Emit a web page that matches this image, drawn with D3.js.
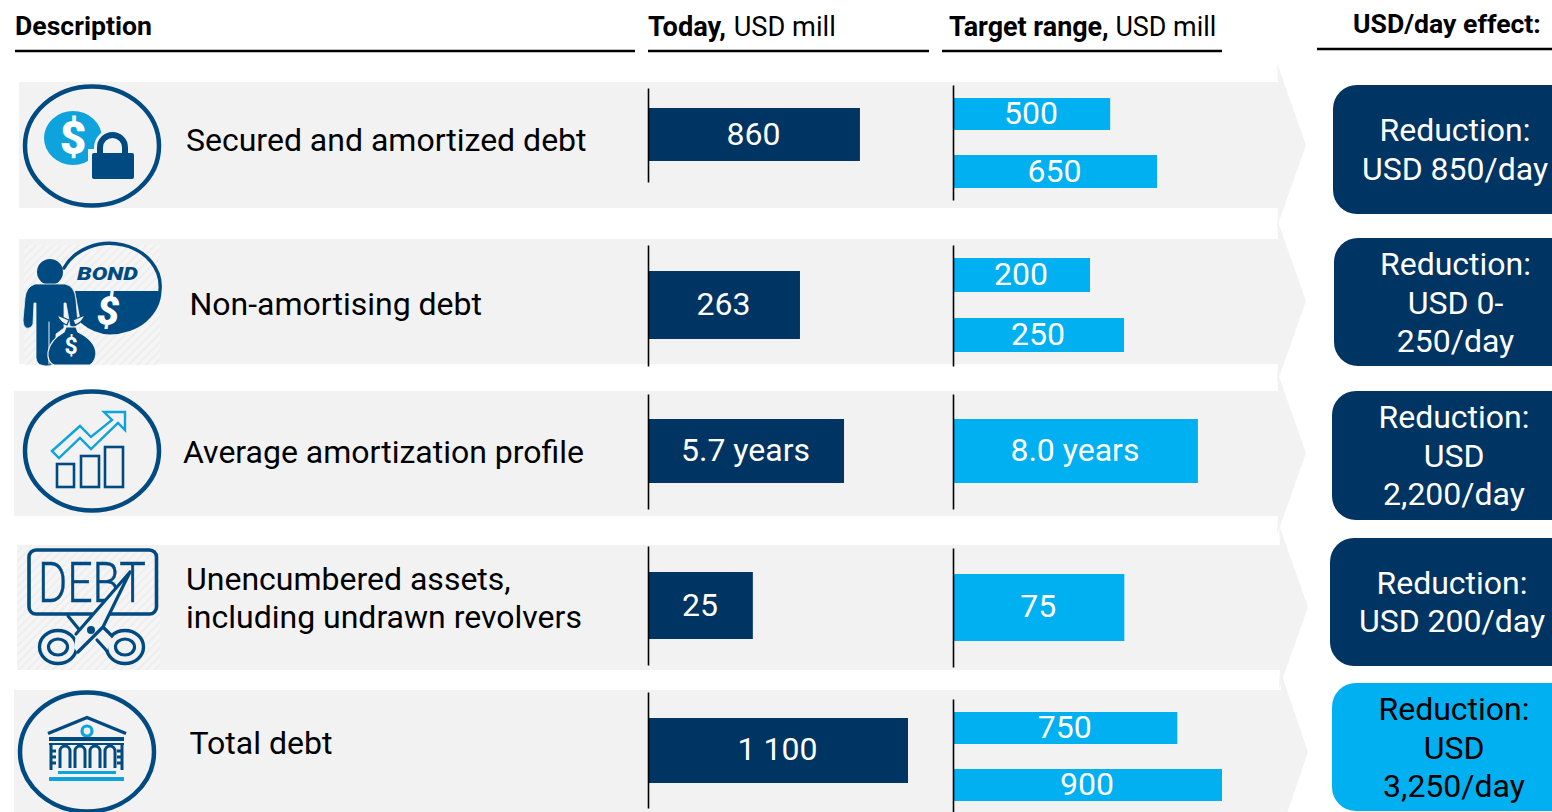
<!DOCTYPE html>
<html><head><meta charset="utf-8">
<script src="https://cdn.jsdelivr.net/npm/d3@7/dist/d3.min.js"></script>
<style>html,body{margin:0;padding:0;background:#fff;overflow:hidden}svg{display:block}text{font-family:Roboto,sans-serif}</style>
</head><body><svg id="c" width="1552" height="812"></svg>
<script>
// ---- data ----
const categories = [["Secured and amortized debt"],["Non-amortising debt"],["Average amortization profile"],["Unencumbered assets,","including undrawn revolvers"],["Total debt"]];
const todayValues = [860,263,5.7,25,1100];
const targetValues = [[500,650],[200,250],[8.0],[75],[750,900]];
const units = ["","","years","",""];
const todayDomainMax = [1055,450,7.56,62,1100];
const targetDomainMax = [858,394,8.79,118,900];
const effectLines = [["Reduction:","USD 850/day"],["Reduction:","USD 0-","250/day"],["Reduction:","USD","2,200/day"],["Reduction:","USD 200/day"],["Reduction:","USD","3,250/day"]];
const headers = [["Description",""],["Today,"," USD mill"],["Target range,"," USD mill"],["USD/day effect:",""]];

// ---- layout ----
const NAVY="#003462", CYAN="#00B0F0", GREY="#F2F2F2", ICON="#004A82", ICONB="#0FA3DE";
const rowL=[
 {x:19,top:82,bot:208,end:1278,ym:145,tip:1306,tx:186,ty:140,axT:[88,182],axR:[85,200],todY:[108,161],tarY:[[98,130],[155,188]],card:[1333,85,214],cx:1455,cy:149,todD:0,tarD:0},
 {x:19,top:239,bot:364,end:1278,ym:301,tip:1306,tx:189.5,ty:304,axT:[245,366],axR:[245,366],todY:[271,339],tarY:[[258,292],[318,352]],card:[1334,238,366],cx:1455.5,cy:302.5,todD:0,tarD:0},
 {x:14,top:391,bot:516,end:1278,ym:453,tip:1306,tx:183,ty:452,axT:[394,509],axR:[394,509],todY:[419,483],tarY:[[419,483]],card:[1332,391,520],cx:1454,cy:455.5,todD:0,tarD:0},
 {x:17,top:545,bot:670,end:1280,ym:607,tip:1308,tx:186,ty:598,axT:[546,665],axR:[548,667],todY:[572,639],tarY:[[574,641]],card:[1330,538,666],cx:1452,cy:601.5,todD:0,tarD:-1},
 {x:14,top:690,bot:830,end:1281,ym:752,tip:1308,tx:189.5,ty:743,axT:[692,808],axR:[699,812],todY:[718,783],tarY:[[712,744],[769,801]],card:[1332,683,811],cx:1454,cy:747.2,todD:-1,tarD:0}
];
const X0=648, X1=954, LINE=38.5, FS=32;
const fmt=(v,i)=>{const s=i===2?d3.format(".1f")(v):(v>=1000?d3.format(",")(v).replace(",", " "):String(v));return units[i]?s+" "+units[i]:s;};
const svg=d3.select("#c");

// header
const hd=[{x:15,y:35,fs:26.6,dx:0,l:[15,635,51]},{x:648,y:36,fs:27.2,dx:1,l:[648,929,51]},{x:949,y:35.5,fs:26.9,dx:0,l:[942,1222,51]},{x:1353,y:33,fs:26.6,dx:0,l:[1317,1552,49]}];
hd.forEach((h,i)=>{
  const t=svg.append("text").attr("x",h.x).attr("y",h.y).attr("font-size",h.fs).attr("fill","#000");
  t.append("tspan").attr("font-weight",700).text(headers[i][0]);
  if(headers[i][1]) t.append("tspan").attr("font-weight",400).attr("dx",h.dx).style("white-space","pre").text(headers[i][1]);
  svg.append("line").attr("x1",h.l[0]).attr("x2",h.l[1]).attr("y1",h.l[2]).attr("y2",h.l[2]).attr("stroke","#000").attr("stroke-width",2.5);
});

// arrows
rowL.forEach(r=>{
  const hh=82;
  svg.append("path").attr("fill",GREY).attr("d",d3.line()([[r.x,r.top],[r.end,r.top],[r.end-1,r.ym-hh],[r.tip,r.ym],[r.end-1,r.ym+hh],[r.end,r.bot],[r.x,r.bot]])+"Z");
});
rowL.forEach((r,i)=>{ if(i<4){ const n=rowL[i+1];
  svg.append("rect").attr("x",0).attr("y",r.bot).attr("width",1277).attr("height",n.top-r.bot).attr("fill","#fff");
}});

// labels
rowL.forEach((r,i)=>{
  const lines=categories[i];
  lines.forEach((s,k)=>{
    svg.append("text").attr("x",r.tx).attr("y",r.ty+(k-(lines.length-1)/2)*38).attr("dy","0.355em")
      .attr("font-size",FS).attr("fill","#000").text(s);
  });
});

// bars
rowL.forEach((r,i)=>{
  const sT=d3.scaleLinear().domain([0,todayDomainMax[i]]).range([0,260]);
  const sR=d3.scaleLinear().domain([0,targetDomainMax[i]]).range([0,268]);
  const g=svg.append("g");
  g.append("rect").attr("x",X0).attr("y",r.todY[0]).attr("width",sT(todayValues[i])).attr("height",r.todY[1]-r.todY[0]).attr("fill",NAVY);
  g.append("text").attr("x",X0+sT(todayValues[i])/2-0.5).attr("y",(r.todY[0]+r.todY[1])/2-1+r.todD).attr("dy","0.355em").attr("text-anchor","middle").attr("font-size",FS).attr("fill","#fff").text(fmt(todayValues[i],i));
  g.selectAll("rect.t").data(targetValues[i]).join("rect").attr("class","t").attr("x",X1).attr("y",(d,k)=>r.tarY[k][0]).attr("width",d=>sR(d)).attr("height",(d,k)=>r.tarY[k][1]-r.tarY[k][0]).attr("fill",CYAN);
  g.selectAll("text.t").data(targetValues[i]).join("text").attr("class","t").attr("x",d=>X1+sR(d)/2-1).attr("y",(d,k)=>(r.tarY[k][0]+r.tarY[k][1])/2-1+r.tarD).attr("dy","0.355em").attr("text-anchor","middle").attr("font-size",FS).attr("fill","#fff").text(d=>fmt(d,i));
  [[X0,r.axT],[X1-1,r.axR]].forEach(([x,rg])=>{
    const ax=d3.axisLeft(d3.scaleLinear().range(rg)).tickValues([]).tickSizeOuter(0);
    const a=g.append("g").attr("transform",`translate(${x},0)`).call(ax);
    a.select(".domain").attr("stroke","#000").attr("stroke-width",1.6);
  });
  const [cx0,cy0,cy1]=r.card;
  svg.append("rect").attr("x",cx0).attr("y",cy0).attr("width",1600-cx0).attr("height",cy1-cy0).attr("rx",24).attr("fill",i===4?CYAN:NAVY);
  const L=effectLines[i];
  L.forEach((s,k)=>{
    svg.append("text").attr("x",r.cx).attr("y",r.cy+(k-(L.length-1)/2)*LINE).attr("dy","0.355em").attr("text-anchor","middle").attr("font-size",FS).attr("fill",i===4?"#000":"#fff").text(s);
  });
});

// icons
const defs=svg.append("defs");
const pat=defs.append("pattern").attr("id","hatch").attr("width",6).attr("height",6).attr("patternUnits","userSpaceOnUse").attr("patternTransform","rotate(-45)");
pat.append("rect").attr("width",6).attr("height",6).attr("fill","#F5F5F5");
pat.append("rect").attr("width",6).attr("height",2).attr("fill","#EEEEEE");
const ic=svg.append("g");
const ring=(cx,cy)=>ic.append("ellipse").attr("cx",cx).attr("cy",cy).attr("rx",67).attr("ry",59.5).attr("fill","none").attr("stroke",ICON).attr("stroke-width",4.5);
const txt=(s,x,y,fs,fill,w,extra)=>{const t=ic.append("text").attr("x",x).attr("y",y).attr("dy","0.355em").attr("text-anchor","middle").attr("font-size",fs).attr("fill",fill).attr("font-weight",w||700).text(s); if(extra)extra(t); return t;};
const stroke=(d,c,w)=>ic.append("path").attr("d",d).attr("fill","none").attr("stroke",c).attr("stroke-width",w).attr("stroke-linecap","round");
// icon 1
ring(92,146);
ic.append("ellipse").attr("cx",73).attr("cy",138).attr("rx",29).attr("ry",27).attr("fill",ICONB);
txt("$",73,138,46,"#fff",900);
ic.append("path").attr("d","M100 157V147.5a12.5 12.5 0 0 1 25 0V157").attr("fill","none").attr("stroke",GREY).attr("stroke-width",12);
ic.append("rect").attr("x",88).attr("y",149).attr("width",50).attr("height",34).attr("fill",GREY);
ic.append("path").attr("d","M100 157V147.5a12.5 12.5 0 0 1 25 0V157").attr("fill","none").attr("stroke",ICON).attr("stroke-width",6);
ic.append("rect").attr("x",92).attr("y",153).attr("width",42).attr("height",26).attr("rx",2).attr("fill",ICON);
// icon 2
ic.append("rect").attr("x",24).attr("y",245).attr("width",136).attr("height",120).attr("fill","url(#hatch)");
stroke("M64 268A50.5 43 0 0 1 160 290",ICON,3.4);
ic.append("path").attr("d","M75 291H161.5A52 44 0 0 1 110 334.5Q94 334 81 323Z").attr("fill",ICON);
ic.append("text").attr("x",77).attr("y",280).attr("font-size",17.5).attr("font-weight",900).attr("font-style","italic").attr("fill",ICON).attr("textLength",61).attr("lengthAdjust","spacingAndGlyphs").text("BOND");
txt("$",108,311,40,"#fff",900,t=>t.attr("font-style","italic"));
ic.append("circle").attr("cx",50).attr("cy",272).attr("r",13).attr("fill",ICON);
ic.append("path").attr("d","M35 284H65Q75 286 76 300L78 324Q75 329 70 326L66 303H64V328L56 334V362Q50 368 41 365Q37 364 36 358V303H34L33 324Q31 329 26 328Q23 326 23 320L25 298Q26 287 35 284Z").attr("fill",ICON).attr("stroke",GREY).attr("stroke-width",.8);
stroke("M49 322V364",GREY,1);
ic.append("path").attr("d","M57 315L69 320L67 325Q60 323 57 315Z").attr("fill",GREY).attr("stroke",ICON).attr("stroke-width",1.2);
ic.append("path").attr("d","M85 315L73 320L75 325Q82 323 85 315Z").attr("fill",GREY).attr("stroke",ICON).attr("stroke-width",1.2);
ic.append("path").attr("d","M66 327H76L78 332Q96 341 96 354Q95 362 90 365H54Q47 362 48 352Q50 340 64 332Z").attr("fill",ICON).attr("stroke",GREY).attr("stroke-width",1.2);
txt("$",71,346,23,"#fff",700);
// icon 3
ring(92,451);
[[57,464,17,23],[81,456,18,31],[105,447,18,40]].forEach(b=>ic.append("rect").attr("x",b[0]).attr("y",b[1]).attr("width",b[2]).attr("height",b[3]).attr("fill","none").attr("stroke",ICON).attr("stroke-width",2.6));
ic.append("path").attr("d",d3.line()([[52,451],[80,426],[91,437],[112,420],[104,412],[125,412],[125,430],[118,423],[91,449],[80,438],[59,458]])+"Z").attr("fill","none").attr("stroke",ICONB).attr("stroke-width",2.4);
// icon 4
ic.append("rect").attr("x",17).attr("y",548).attr("width",143).attr("height",122).attr("fill","url(#hatch)");
ic.append("rect").attr("x",29).attr("y",550).attr("width",127.5).attr("height",64).attr("rx",7).attr("fill","none").attr("stroke",ICON).attr("stroke-width",3.6);
ic.append("text").attr("x",38).attr("y",602).attr("font-size",56).attr("fill",ICON).attr("stroke",ICON).attr("stroke-width",.5).attr("font-weight",300).attr("textLength",108).attr("lengthAdjust","spacingAndGlyphs").text("DEBT");
[[58,647],[125,647]].forEach(c=>{
  ic.append("ellipse").attr("cx",c[0]).attr("cy",c[1]).attr("rx",18.5).attr("ry",16.5).attr("fill",GREY).attr("stroke",ICON).attr("stroke-width",3.4);
  ic.append("ellipse").attr("cx",c[0]).attr("cy",c[1]).attr("rx",9.5).attr("ry",8).attr("fill",GREY).attr("stroke",ICON).attr("stroke-width",3.2);
});
ic.append("path").attr("d","M68 616H85L112 636L107 652L97 640L82 633Z").attr("fill",GREY);
stroke("M68 616L82 633M103 627L112 636M97 640L107 651",ICON,3.2);
ic.append("path").attr("d","M130 572L76 634L74 648L78 653L88 642L103 627Z").attr("fill",GREY);
stroke("M130 572L76 634M130 572L103 627L78 652",ICON,3.2);
ic.append("circle").attr("cx",91).attr("cy",630).attr("r",4).attr("fill",ICON);
// icon 5
ring(87,752);
ic.append("path").attr("d","M48 733.5L87 717.5L126 733.5").attr("fill","none").attr("stroke",ICON).attr("stroke-width",3.4);
ic.append("circle").attr("cx",87).attr("cy",731).attr("r",5).attr("fill","none").attr("stroke",ICONB).attr("stroke-width",3.2);
ic.append("rect").attr("x",49).attr("y",737).attr("width",75).attr("height",4).attr("fill",ICON);
ic.append("rect").attr("x",49).attr("y",743).attr("width",75).attr("height",2).attr("fill",ICON);
[65,80,95,110].forEach(x=>ic.append("path").attr("d",`M${x-5} 768V751a5 5 0 0 1 10 0V768`).attr("fill","none").attr("stroke",ICON).attr("stroke-width",3));
ic.append("path").attr("d","M51 745V770M51 751H56M51 757H56M51 763H56M122 745V770M122 751H117M122 757H117M122 763H117").attr("fill","none").attr("stroke",ICON).attr("stroke-width",3);
ic.append("rect").attr("x",58).attr("y",771).attr("width",58).attr("height",3).attr("fill",ICONB);
ic.append("rect").attr("x",49).attr("y",777).attr("width",75).attr("height",4).attr("fill",ICONB);
</script></body></html>
